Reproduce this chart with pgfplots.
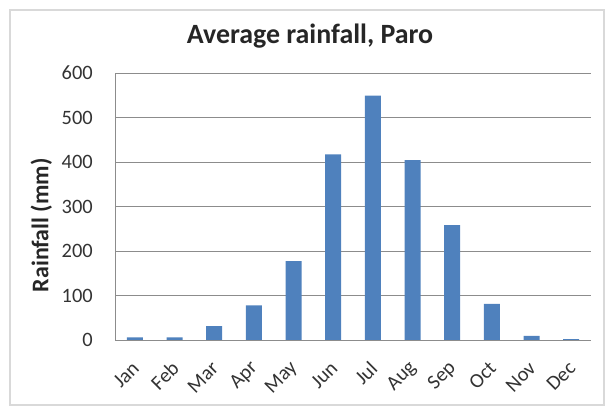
\documentclass[border=0pt]{standalone}
\usepackage{pgfplots}
\pgfplotsset{compat=1.18}
\usepackage{fontspec}
\setmainfont{Carlito}
\definecolor{barblue}{HTML}{4F81BD}
\definecolor{gridgray}{HTML}{8C8C8C}
\definecolor{framegray}{HTML}{D9D9D9}
\newcommand{\tickfont}{\fontsize{20.5}{22}\selectfont}

\begin{document}
\begin{tikzpicture}
  \path[use as bounding box] (0bp,0bp) rectangle (612bp,408bp);
  \draw[framegray, line width=1.2bp] (10bp,3bp) rectangle (604bp,398bp);
  \node[font=\bfseries\fontsize{28}{32}\selectfont, text=black!85] at (310bp,372bp) {Average rainfall, Paro};
  \begin{axis}[
      at={(115bp,68bp)}, anchor=south west,
      scale only axis, width=476bp, height=267bp,
      ybar, bar width=16bp,
      ymin=0, ymax=600, ytick={0,100,...,600},
      xmin=-0.5, xmax=11.5,
      xtick={0,...,11},
      xticklabels={Jan,Feb,Mar,Apr,May,Jun,Jul,Aug,Sep,Oct,Nov,Dec},
      axis x line*=bottom, axis y line*=left,
      axis line style={gridgray, line width=0.8bp, -},
      major tick length=0pt,
      ymajorgrids, grid style={gridgray, line width=0.8bp},
      /pgf/number format/assume math mode=true,
      yticklabel style={font=\tickfont, text=black!80, inner sep=0pt, xshift=-22bp},
      xticklabel style={font=\tickfont, text=black!80, inner sep=0pt,
        xshift=1bp, yshift=-25bp, rotate=45, anchor=east},
      ylabel={\bfseries Rainfall (mm)},
      ylabel style={at={(axis description cs:-0.155,0.43)}, rotate=0, anchor=center,
        font=\fontsize{24}{26}\selectfont, text=black!85},
    ]
    \addplot[fill=barblue, draw=none] coordinates {
      (0,6) (1,6) (2,31) (3,78) (4,177) (5,417)
      (6,549) (7,404) (8,258) (9,81) (10,9) (11,2)
    };
  \end{axis}
\end{tikzpicture}
\end{document}
